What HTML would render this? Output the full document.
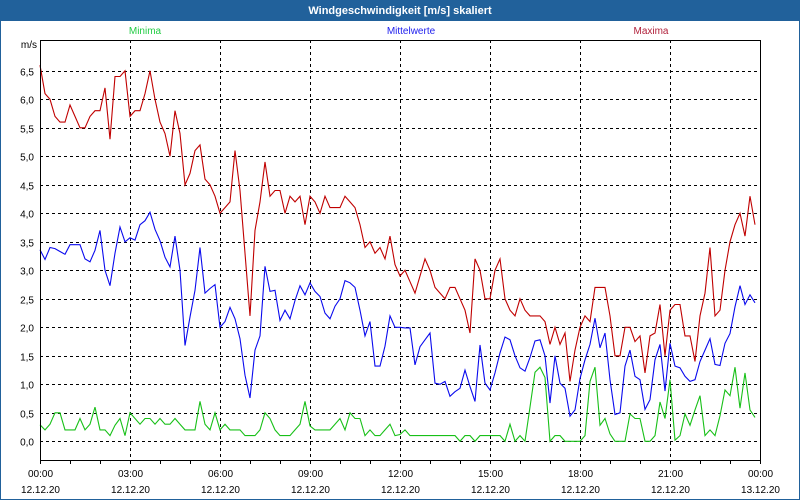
<!DOCTYPE html>
<html><head><meta charset="utf-8"><style>
body{margin:0;background:#fff;}
#wrap{position:relative;width:800px;height:500px;overflow:hidden;font-family:"Liberation Sans",sans-serif;}
</style></head><body>
<div id="wrap">
<svg id="chart" width="800" height="500" xmlns="http://www.w3.org/2000/svg">
<rect x="0" y="0" width="800" height="500" fill="#fff"/>
<rect x="0" y="0" width="800" height="21" fill="#21619b"/>
<rect x="0.5" y="0.5" width="799" height="499" fill="none" stroke="#21619b" stroke-width="1"/>
<text x="400" y="14" text-anchor="middle" font-size="11" font-weight="bold" fill="#fff">Windgeschwindigkeit [m/s] skaliert</text>
<text x="145" y="34" text-anchor="middle" font-size="10" fill="#22cc44">Minima</text>
<text x="411" y="34" text-anchor="middle" font-size="10" fill="#2020ee">Mittelwerte</text>
<text x="651" y="34" text-anchor="middle" font-size="10" fill="#b0203a">Maxima</text>
<text x="37" y="48" text-anchor="end" font-size="10" fill="#000">m/s</text>
<g id="grid"></g>
<g id="series"></g>
<g id="axes"></g>
</svg>
</div>
<script>
const yTicks = ["0,0","0,5","1,0","1,5","2,0","2,5","3,0","3,5","4,0","4,5","5,0","5,5","6,0","6,5"];
const yTickValues = [0,0.5,1,1.5,2,2.5,3,3.5,4,4.5,5,5.5,6,6.5];
const xTimeLabels = ["00:00","03:00","06:00","09:00","12:00","15:00","18:00","21:00","00:00"];
const xDateLabels = ["12.12.20","12.12.20","12.12.20","12.12.20","12.12.20","12.12.20","12.12.20","12.12.20","13.12.20"];
const xLabelHours = [0,3,6,9,12,15,18,21,24];
const minima = [
0.29,0.2,0.3,0.5,0.5,0.2, 0.2,0.2,0.4,0.2,0.3,0.6, 0.2,0.2,0.1,0.28,0.4,0.1, 0.5,0.4,0.3,0.4,0.4,0.3,
0.4,0.3,0.3,0.4,0.3,0.2, 0.2,0.2,0.7,0.3,0.2,0.5, 0.2,0.3,0.2,0.2,0.2,0.1, 0.1,0.1,0.2,0.5,0.4,0.2,
0.1,0.1,0.1,0.2,0.3,0.7, 0.27,0.2,0.2,0.2,0.2,0.3, 0.4,0.2,0.5,0.4,0.4,0.1, 0.2,0.1,0.1,0.2,0.3,0.1,
0.12,0.2,0.1,0.1,0.1,0.1, 0.1,0.1,0.1,0.1,0.1,0.1, 0,0.1,0.1,0,0.1,0.1, 0.1,0.1,0.1,0,0.3,0,
0.1,0,0.6,1.21,1.3,1.12, 0,0.1,0.1,0,0,0, 0,0.1,1.05,1.3,0.28,0.4, 0.13,0,0,0,0.48,0.4,
0.4,0,0,0.1,0.69,0.4, 1.08,0.02,0.1,0.48,0.28,0.55, 0.8,0.1,0.2,0.1,0.45,0.9, 0.8,1.3,0.58,1.2,0.55,0.42];
const mittelwerte = [
3.36,3.19,3.4,3.38,3.33,3.28, 3.45,3.45,3.45,3.2,3.15,3.35, 3.7,3.0,2.73,3.3,3.76,3.5, 3.57,3.53,3.8,3.87,4.02,3.72,
3.52,3.23,3.06,3.6,3.0,1.68, 2.18,2.65,3.4,2.6,2.68,2.75, 2.0,2.1,2.35,2.15,1.8,1.16, 0.76,1.6,1.85,3.07,2.63,2.65,
2.12,2.3,2.15,2.47,2.73,2.57, 2.78,2.63,2.54,2.25,2.15,2.37, 2.5,2.82,2.78,2.7,2.3,1.85, 2.1,1.32,1.32,1.67,2.2,2.0,
2.0,1.99,1.99,1.34,1.66,1.78, 1.9,1.02,1.0,1.05,0.79,0.87, 0.93,1.25,0.96,0.7,1.69,1.02, 0.9,1.2,1.55,1.83,1.78,1.5,
1.29,1.23,1.47,1.76,1.78,1.5, 0.67,1.5,1.02,0.93,0.44,0.55, 1.1,1.43,1.7,2.16,1.64,1.9, 1.08,0.47,0.5,1.32,1.6,1.14,
1.08,0.56,0.73,1.43,1.7,0.88, 1.72,1.32,1.29,1.14,1.05,1.08, 1.4,1.6,1.8,1.35,1.33,1.72, 1.89,2.36,2.73,2.4,2.57,2.43];
const maxima = [
6.6,6.1,6.0,5.7,5.6,5.6, 5.9,5.7,5.5,5.5,5.7,5.8, 5.8,6.2,5.3,6.4,6.4,6.5, 5.7,5.8,5.8,6.1,6.5,6.0,
5.6,5.4,5.0,5.8,5.4,4.5, 4.7,5.1,5.2,4.6,4.5,4.3, 4.0,4.1,4.2,5.1,4.4,3.3, 2.2,3.7,4.2,4.9,4.3,4.4,
4.4,4.0,4.3,4.2,4.3,3.8, 4.3,4.2,4.0,4.3,4.1,4.1, 4.1,4.3,4.2,4.1,3.8,3.4, 3.5,3.3,3.4,3.2,3.6,3.1,
2.9,3.0,2.8,2.6,2.9,3.2, 3.0,2.7,2.6,2.5,2.7,2.7, 2.5,2.3,1.9,3.2,3.0,2.5, 2.5,3.0,3.2,2.5,2.3,2.2,
2.5,2.3,2.2,2.2,2.2,2.1, 1.7,2.0,1.7,1.9,1.05,1.6, 2.0,2.2,2.1,2.7,2.7,2.7, 2.2,1.5,1.5,2.0,2.0,1.75,
1.85,1.2,1.85,1.9,2.4,1.5, 2.3,2.4,2.4,1.85,1.85,1.4, 2.2,2.6,3.4,2.2,2.3,3.0, 3.5,3.8,4.0,3.6,4.3,3.8];

const NS='http://www.w3.org/2000/svg';
const L=40,R=760,T=40,B=460;
function xScale(h){return L+(h/24)*(R-L);}
function yScale(v){return 441.3 - v*57;}
function mk(tag,attrs,parent){const e=document.createElementNS(NS,tag);for(const k in attrs)e.setAttribute(k,attrs[k]);parent.appendChild(e);return e;}
const grid=document.getElementById('grid'),axes=document.getElementById('axes'),series=document.getElementById('series');

yTickValues.forEach((v,i)=>{
  const y=Math.round(yScale(v))+0.5;
  const g=mk('line',{x1:L,x2:R,y1:y,y2:y,stroke:'#000','stroke-dasharray':'3,3','stroke-width':1},grid);
  
  
  const t=mk('text',{x:34,y:y+4,'text-anchor':'end','font-size':10,fill:'#000'},axes);
  t.textContent=yTicks[i];
  
  
});
xLabelHours.forEach((h,i)=>{
  const x=Math.round(xScale(h))+0.5;
  if(h>0&&h<24){
    const g=mk('line',{x1:x,x2:x,y1:T,y2:B,stroke:'#000','stroke-dasharray':'3,3','stroke-width':1},grid);
    
    
  }
  const t1=mk('text',{x:x,y:477,'text-anchor':'middle','font-size':10,fill:'#000'},axes);
  t1.textContent=xTimeLabels[i];
  
  
  const t2=mk('text',{x:x,y:493,'text-anchor':'middle','font-size':10,fill:'#000'},axes);
  t2.textContent=xDateLabels[i];
  
  
});
for(let h=0;h<=24;h++){
  const x=Math.round(xScale(h))+0.5;
  const tk=mk('line',{x1:x,x2:x,y1:B,y2:B+4,stroke:'#000'},axes);
  
  
}
const frame=mk('rect',{x:L+0.5,y:T+0.5,width:R-L,height:B-T,fill:'none',stroke:'#000'},axes);



function drawSeries(vals,color,name){
  const pts=vals.map((v,i)=>xScale(i/6).toFixed(1)+','+yScale(v).toFixed(1)).join(' ');
  const p=mk('polyline',{points:pts,fill:'none',stroke:color,'stroke-width':1.1},series);
  
  
}
drawSeries(minima,'#18c018','minima-line');
drawSeries(mittelwerte,'#0a0aee','mittelwerte-line');
drawSeries(maxima,'#c00000','maxima-line');
</script>
</body></html>
